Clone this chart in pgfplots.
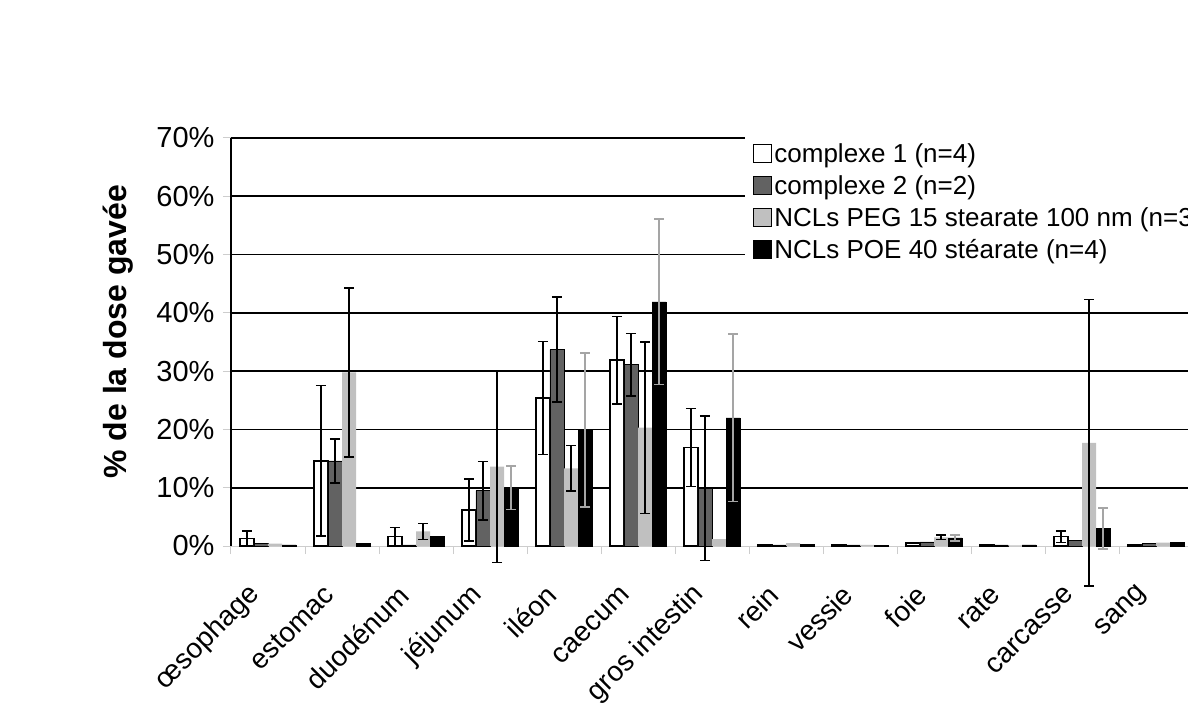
\documentclass[border=0pt]{standalone}
\usepackage{fontspec}
\setmainfont{Liberation Sans}
\setsansfont{Liberation Sans}
\usepackage{pgfplots}
\pgfplotsset{compat=1.18}
\definecolor{cdeux}{RGB}{98,98,98}
\definecolor{cpeg}{RGB}{192,192,192}
\definecolor{errgris}{RGB}{165,165,165}
\definecolor{axegris}{RGB}{205,205,205}

\begin{document}
\begin{tikzpicture}
\path[use as bounding box] (-231pt,-158pt) rectangle (957pt,546pt);
\begin{axis}[
  at={(0pt,0pt)}, anchor=south west,
  scale only axis, width=962pt, height=408pt,
  clip=false,
  ybar, bar width=0.19,
  xmin=-0.5, xmax=12.5, ymin=0, ymax=70,
  axis lines*=left,
  x axis line style={axegris, line width=1pt},
  y axis line style={black, line width=1.6pt},
  tick align=outside,
  xtick={0,...,12},
  xticklabels={œsophage, estomac, duodénum, jéjunum, iléon, caecum, gros intestin, rein, vessie, foie, rate, carcasse, sang},
  minor xtick={-0.5,0.5,...,12.5},
  major x tick style={draw=none},
  minor x tick style={axegris, line width=1pt},
  minor tick length=8pt,
  major tick length=8pt,
  ytick={10,20,...,70},
  extra y ticks={0},
  extra y tick style={grid=none},
  ytick style={axegris, line width=1pt},
  ymajorgrids,
  y grid style={black, line width=1.6pt},
  /pgf/number format/assume math mode=true,
  yticklabel={\pgfmathprintnumber{\tick}\%},
  yticklabel style={font=\fontsize{29}{33}\selectfont, xshift=-5pt},
  xticklabel style={font=\fontsize{28}{32}\selectfont, xshift=-11pt, yshift=-35pt, rotate=45, anchor=east, inner sep=2pt},
  ylabel={\% de la dose gavée},
  ylabel style={at={(axis description cs:-0.1175,0.525)}, anchor=center, font=\bfseries\fontsize{32}{38}\selectfont},
  legend style={at={(0.534,1.0125)}, anchor=north west, draw=none, fill=white,
    font=\fontsize{26}{30}\selectfont, row sep=7.5pt, inner xsep=2pt, inner ysep=9pt,
    nodes={inner xsep=2pt, inner ysep=2pt}},
  legend cell align=left,
  legend image code/.code={\path (0pt,0pt); \draw[#1] (6pt,-8pt) rectangle (24pt,10pt);},
  error bars/error mark=-,
]
% barres
\addplot[bar shift=-0.285, fill=white, draw=black, line width=1.5pt] coordinates {
 (0,1.3) (1,14.6) (2,1.6) (3,6.2) (4,25.4) (5,31.9) (6,16.9) (7,0.2) (8,0.2) (9,0.5) (10,0.2) (11,1.6) (12,0.3)};
\addplot[bar shift=-0.095, fill=cdeux, draw=black, line width=0.6pt] coordinates {
 (0,0.5) (1,14.6) (2,0.2) (3,9.5) (4,33.7) (5,31.1) (6,9.9) (7,0.2) (8,0.2) (9,0.7) (10,0.2) (11,0.9) (12,0.4)};
\addplot[bar shift=0.095, fill=cpeg, draw=none] coordinates {
 (0,0.4) (1,29.8) (2,2.5) (3,13.6) (4,13.3) (5,20.3) (6,1.2) (7,0.5) (8,0.2) (9,1.5) (10,0.1) (11,17.7) (12,0.6)};
\addplot[bar shift=0.285, fill=black, draw=black] coordinates {
 (0,0.2) (1,0.4) (2,1.6) (3,10.0) (4,19.9) (5,41.9) (6,22.0) (7,0.3) (8,0.1) (9,1.4) (10,0.2) (11,3.0) (12,0.6)};
\legend{complexe 1 (n=4), complexe 2 (n=2), NCLs PEG 15 stearate 100 nm (n=3), NCLs POE 40 stéarate (n=4)}
% barres d'erreur
\addplot[forget plot, bar shift=-0.285, fill=none, draw=none,
  error bars/.cd, y dir=both, y explicit,
  error bar style={draw=black, line width=1.5pt},
  error mark options={rotate=90, draw=black, line width=1.5pt, mark size=5pt}] coordinates {
 (0,1.3) +- (0,1.3) (1,14.6) +- (0,12.9) (2,1.6) +- (0,1.6) (3,6.2) +- (0,5.3)
 (4,25.4) +- (0,9.7) (5,31.9) +- (0,7.5) (6,16.9) +- (0,6.7) (11,1.6) +- (0,1.0)};
\addplot[forget plot, bar shift=-0.095, fill=none, draw=none,
  error bars/.cd, y dir=both, y explicit,
  error bar style={draw=black, line width=1.5pt},
  error mark options={rotate=90, draw=black, line width=1.5pt, mark size=5pt}] coordinates {
 (1,14.6) +- (0,3.8) (3,9.5) +- (0,5.0) (4,33.7) +- (0,9.0) (5,31.1) +- (0,5.4) (6,9.9) +- (0,12.4)};
\addplot[forget plot, bar shift=0.095, fill=none, draw=none,
  error bars/.cd, y dir=both, y explicit,
  error bar style={draw=black, line width=1.5pt},
  error mark options={rotate=90, draw=black, line width=1.5pt, mark size=5pt}] coordinates {
 (1,29.8) +- (0,14.5) (2,2.5) +- (0,1.4) (3,13.6) +- (0,16.4) (4,13.3) +- (0,3.9)
 (5,20.3) +- (0,14.7) (9,1.5) +- (0,0.4) (11,17.7) +- (0,24.6)};
\addplot[forget plot, bar shift=0.285, fill=none, draw=none,
  error bars/.cd, y dir=both, y explicit,
  error bar style={draw=errgris, line width=1.5pt},
  error mark options={rotate=90, draw=errgris, line width=1.5pt, mark size=5pt}] coordinates {
 (3,10.0) +- (0,3.7) (4,19.9) +- (0,13.2) (5,41.9) +- (0,14.2) (6,22.0) +- (0,14.4)
 (9,1.4) +- (0,0.5) (11,3.0) +- (0,3.5)};
\end{axis}
\end{tikzpicture}
\end{document}
